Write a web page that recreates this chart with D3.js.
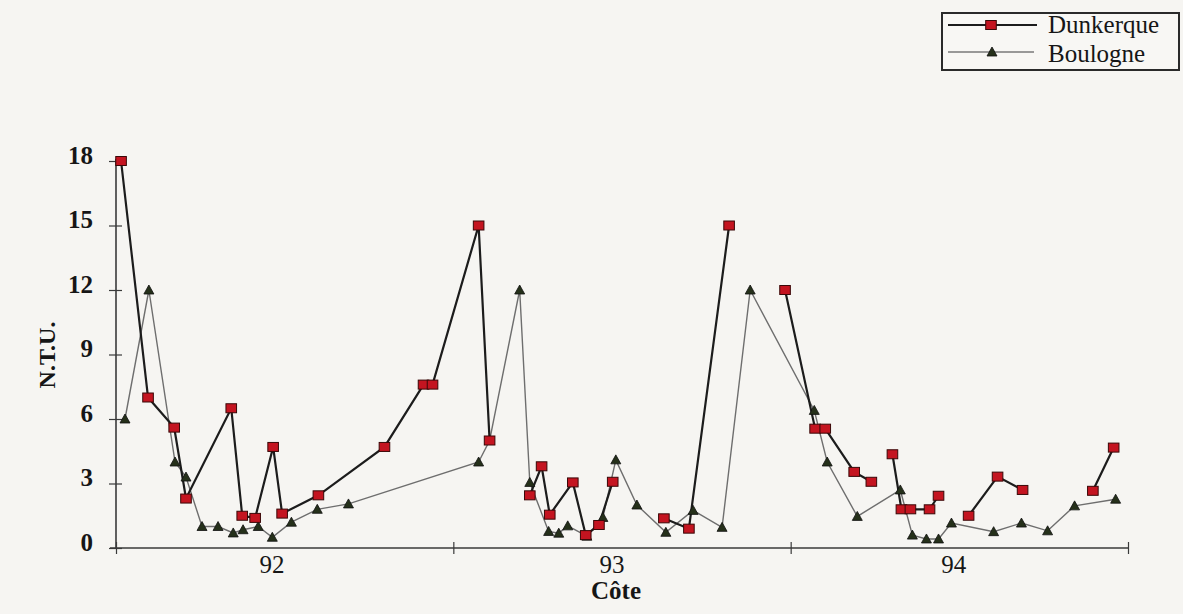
<!DOCTYPE html>
<html>
<head>
<meta charset="utf-8">
<script src="https://cdn.jsdelivr.net/npm/d3@7"></script>
<style>
  html, body { margin: 0; padding: 0; background: #f6f5f2; }
  svg { display: block; }
  text { font-family: "Liberation Serif", "Times New Roman", serif; fill: #161616; }
</style>
</head>
<body>
<svg id="chart" width="1183" height="614"></svg>
<script>
// Years on the horizontal axis (one band of 12 months each)
const years = ["92", "93", "94"];
const yearLabelMonth = [5.55, 17.64, 29.8];
const yTicks = [0, 3, 6, 9, 12, 15, 18];

// Sampling dates in months since the start of 1992; null marks a break in the series
const dunkerqueMonth = [0.18, 1.14, 2.07, 2.49, 4.10, 4.49, 4.95, 5.59, 5.91, 7.20, 9.55, 10.94, 11.26, 12.90, 13.29, null,
  14.72, 15.14, 15.43, 16.25, 16.71, 17.18, 17.67, null,
  19.49, 20.38, 21.81, null,
  23.80, 24.87, 25.23, 26.26, 26.87, null,
  27.62, 27.94, 28.26, 28.94, 29.26, null,
  30.33, 31.36, 32.25, null,
  34.75, 35.49];
const dunkerqueNTU = [18, 7, 5.6, 2.3, 6.5, 1.5, 1.4, 4.7, 1.6, 2.45, 4.7, 7.6, 7.6, 15, 5, null,
  2.45, 3.8, 1.55, 3.05, 0.6, 1.07, 3.08, null,
  1.38, 0.9, 15, null,
  12, 5.55, 5.55, 3.54, 3.08, null,
  4.36, 1.8, 1.8, 1.8, 2.43, null,
  1.5, 3.32, 2.7, null,
  2.66, 4.67];

const boulogneMonth = [0.32, 1.17, 2.10, 2.49, 3.06, 3.63, 4.17, 4.52, 5.06, 5.56,
  6.24, 7.16, 8.27, 12.90, 13.29, 14.36, 14.72, 15.39, 15.75, 16.07,
  16.75, 17.32, 17.78, 18.53, 19.56, 20.53, 21.56, 22.56, 24.84, 25.30,
  26.37, 27.90, 28.33, 28.83, 29.26, 29.72, 31.22, 32.21, 33.14, 34.10, 35.56];
const boulogneNTU = [6, 12, 4, 3.3, 1.0, 1.0, 0.7, 0.85, 1.0, 0.5,
  1.2, 1.8, 2.05, 4.0, 5.0, 12, 3.05, 0.77, 0.69, 1.03,
  0.55, 1.42, 4.1, 2.0, 0.73, 1.75, 0.96, 12, 6.4, 4.0,
  1.47, 2.7, 0.6, 0.42, 0.42, 1.16, 0.76, 1.16, 0.8, 1.96, 2.27];

const svg = d3.select("#chart");

const x = d3.scaleLinear().domain([0, 36]).range([116, 1128]);
const y = d3.scaleLinear().domain([0, 18]).range([548, 161]);

const dunkerque = dunkerqueMonth.map((m, i) => ({ m, v: dunkerqueNTU[i] }));
const boulogne = boulogneMonth.map((m, i) => ({ m, v: boulogneNTU[i] }));

// ---- axes ----
const axisColor = "#3a3a3a";

// vertical axis
const yAxis = svg.append("g").attr("transform", `translate(${x(0)},0)`)
  .call(d3.axisLeft(y).tickValues(yTicks).tickSize(0).tickPadding(0).tickFormat(d3.format("d")));
yAxis.select(".domain").attr("stroke", axisColor).attr("stroke-width", 1.6).attr("d", `M0,${y(0)}V${y(18) - 2}`);
yAxis.selectAll(".tick line").remove();
yAxis.selectAll(".tick").append("line")
  .attr("x1", -7).attr("x2", 6).attr("stroke", axisColor).attr("stroke-width", 1.2);
yAxis.selectAll(".tick text")
  .attr("x", -23).attr("dy", 2).attr("dominant-baseline", "auto")
  .style("font-family", "'Liberation Serif', serif")
  .style("font-size", "25px").style("font-weight", "bold").attr("fill", "#161616");

// horizontal axis
const xAxis = svg.append("g").attr("transform", `translate(0,${y(0)})`)
  .call(d3.axisBottom(x).tickValues([0, 12, 24, 36]).tickSize(0).tickFormat(""));
xAxis.select(".domain").attr("stroke", axisColor).attr("stroke-width", 1.6).attr("d", `M${x(0) - 6},0H${x(36)}`);
xAxis.selectAll(".tick line").remove();
xAxis.selectAll(".tick").append("line")
  .attr("y1", -6).attr("y2", 6).attr("stroke", axisColor).attr("stroke-width", 1.2);

svg.append("g").selectAll("text").data(years).join("text")
  .attr("x", (d, i) => x(yearLabelMonth[i]))
  .attr("y", 573)
  .attr("text-anchor", "middle")
  .style("font-size", "25px")
  .text(d => d);

// axis titles
svg.append("text")
  .attr("transform", `translate(55,355) rotate(-90)`)
  .attr("text-anchor", "middle")
  .style("font-size", "24px").style("font-weight", "bold")
  .text("N.T.U.");

svg.append("text")
  .attr("x", 616).attr("y", 599)
  .attr("text-anchor", "middle")
  .style("font-size", "25px").style("font-weight", "bold")
  .text("Côte");

// ---- series ----
const line = d3.line()
  .defined(d => d.v != null)
  .x(d => x(d.m))
  .y(d => y(d.v));

svg.append("path").datum(boulogne)
  .attr("fill", "none").attr("stroke", "#6e6e6e").attr("stroke-width", 1.4)
  .attr("d", line);

svg.append("path").datum(dunkerque)
  .attr("fill", "none").attr("stroke", "#1c1c1c").attr("stroke-width", 2.2)
  .attr("d", line);

const triangle = "M0,-5L5,4L-5,4Z";

function drawSquare(g, cx, cy) {
  g.append("rect").attr("x", cx - 5.3).attr("y", cy - 4.5).attr("width", 10.6).attr("height", 9)
    .attr("fill", "#c41420").attr("stroke", "#3a0808").attr("stroke-width", 1);
}
function drawTriangle(g, cx, cy) {
  g.append("path").attr("d", triangle).attr("transform", `translate(${cx},${cy})`)
    .attr("fill", "#25301a").attr("stroke", "#101010").attr("stroke-width", 0.8);
}

const bMarks = svg.append("g");
boulogne.forEach(d => drawTriangle(bMarks, x(d.m), y(d.v)));
const dMarks = svg.append("g");
dunkerque.filter(d => d.v != null).forEach(d => drawSquare(dMarks, x(d.m), y(d.v)));

// ---- legend ----
const lg = svg.append("g");
lg.append("rect").attr("x", 942).attr("y", 13).attr("width", 237).attr("height", 57)
  .attr("fill", "#f8f7f4").attr("stroke", "#2a2a2a").attr("stroke-width", 2);
lg.append("line").attr("x1", 948).attr("x2", 1037).attr("y1", 25).attr("y2", 25)
  .attr("stroke", "#1c1c1c").attr("stroke-width", 2);
drawSquare(lg, 991, 25);
lg.append("line").attr("x1", 948).attr("x2", 1034).attr("y1", 52).attr("y2", 52)
  .attr("stroke", "#7a7a7a").attr("stroke-width", 1.3);
drawTriangle(lg, 992, 52);
lg.append("text").attr("x", 1048).attr("y", 33).style("font-size", "25px").text("Dunkerque");
lg.append("text").attr("x", 1048).attr("y", 62).style("font-size", "25px").text("Boulogne");
</script>
</body>
</html>
